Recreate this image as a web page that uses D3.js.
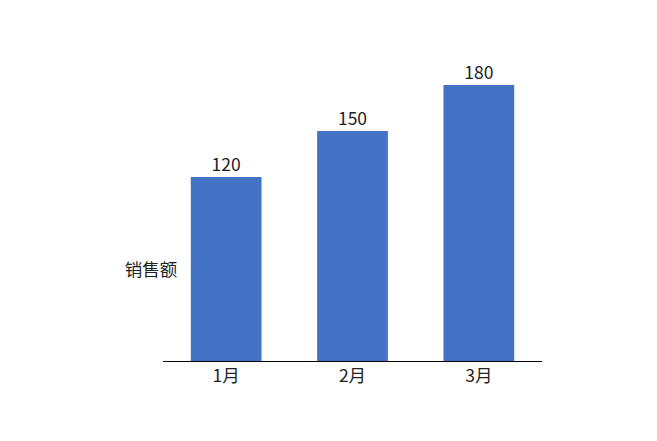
<!DOCTYPE html>
<html lang="zh">
<head>
<meta charset="UTF-8">
<title>销售额</title>
<script src="https://d3js.org/d3.v7.min.js"></script>
<style>
  body { margin: 0; background: #fff; }
  text { font-family: "Noto Sans CJK SC", "Noto Sans", sans-serif; fill: #222; }
</style>
</head>
<body>
<svg></svg>
<script>
  const months = ["1月", "2月", "3月"];
  const sales = [120, 150, 180];
  const yLabel = "销售额";

  const width = 657, height = 441;
  const left = 163, right = 542, bottom = 361;
  const fs = 17.5;

  const svg = d3.select("svg")
    .attr("width", width)
    .attr("height", height);

  const x = d3.scaleBand().domain(months).range([left, right]).paddingInner(0.44).paddingOuter(0.22);
  const y = d3.scaleLinear().domain([0, 180]).range([bottom, 85]);

  svg.selectAll("rect")
    .data(sales)
    .join("rect")
    .attr("fill", "#4472C4")
    .attr("x", (d, i) => x(months[i]))
    .attr("y", d => y(d))
    .attr("width", x.bandwidth())
    .attr("height", d => bottom - y(d));

  svg.selectAll(".val")
    .data(sales)
    .join("text")
    .attr("class", "val")
    .attr("x", (d, i) => x(months[i]) + x.bandwidth() / 2)
    .attr("y", d => y(d) - 6)
    .attr("text-anchor", "middle")
    .attr("font-size", fs)
    .text(d => d);

  const axis = svg.append("g")
    .attr("transform", `translate(0,${bottom})`)
    .call(d3.axisBottom(x).tickSize(0).tickPadding(9));
  axis.select(".domain").attr("stroke", "#000").attr("d", `M${left},0.5H${right}`);
  axis.selectAll("text").attr("font-size", fs).attr("fill", "#222")
    .style("font-family", '"Noto Sans CJK SC", sans-serif');

  svg.append("text")
    .attr("x", 151)
    .attr("y", 276)
    .attr("text-anchor", "middle")
    .attr("font-size", fs)
    .text(yLabel);
</script>
</body>
</html>
